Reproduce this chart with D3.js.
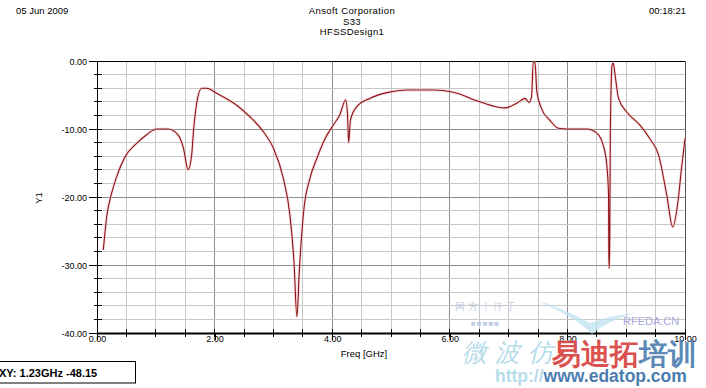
<!DOCTYPE html>
<html>
<head>
<meta charset="utf-8">
<script src="https://cdn.jsdelivr.net/npm/d3@7"></script>
<style>
  html, body { margin: 0; padding: 0; background: #fff; }
  svg { display: block; }
  text { font-family: "Liberation Sans", Arial, sans-serif; }
</style>
</head>
<body>
<svg id="chart" width="706" height="388"></svg>
<script>
// ---- data ----
const freqGHz = [0.107, 0.165, 0.25, 0.335, 0.476, 0.675, 0.85, 1.015, 1.21, 1.38, 1.47, 1.55, 1.61, 1.64, 1.71, 1.78, 1.865,
  2.035, 2.376, 2.60, 2.83, 3.00, 3.17, 3.28, 3.35, 3.40, 3.44, 3.52, 3.62, 3.74, 3.88, 4.02, 4.13, 4.23, 4.26,
  4.28, 4.31, 4.42, 4.64, 4.93, 5.27, 5.72, 6.06, 6.51, 6.94, 7.14, 7.28, 7.35, 7.39, 7.42, 7.45, 7.48, 7.56,
  7.70, 7.85, 7.99, 8.33, 8.50, 8.61, 8.67, 8.70, 8.705, 8.71, 8.72, 8.73, 8.76, 8.78, 8.81, 8.87, 9.01, 9.23,
  9.40, 9.55, 9.69, 9.79, 9.88, 9.94, 10.0];
const s33dB = [-27.8, -22.9, -19.4, -17.0, -14.1, -12.1, -10.8, -10.0, -10.0, -10.9, -12.8, -16.0, -13.8, -10.4, -5.5, -4.0, -4.0,
  -4.75, -6.5, -8.2, -10.4, -12.8, -17.3, -22.6, -29.5, -37.6, -31.0, -21.7, -17.3, -14.3, -11.4, -9.4, -7.9, -5.7, -7.9,
  -12.0, -8.7, -6.7, -5.5, -4.65, -4.26, -4.26, -4.6, -6.0, -6.9, -6.2, -5.5, -6.1, -5.25, -0.1, -0.3, -4.5, -7.0,
  -8.7, -9.9, -10.0, -10.0, -10.6, -12.4, -15.3, -19.7, -28.5, -30.5, -26.6, -10.9, -0.6, -0.3, -2.0, -5.5, -7.5, -9.4,
  -11.4, -13.8, -19.7, -24.4, -20.7, -15.8, -11.4];
const xMajorTicks = [0, 2, 4, 6, 8, 10];
const xMinorTicks = d3.range(0, 10.01, 0.5);
const yMajorTicks = [-40, -30, -20, -10, 0];
const yMinorTicks = d3.range(-40, 0.01, 2);
const headerLeft = "05 Jun 2009";
const headerRight = "00:18:21";
const titleLines = ["Ansoft Corporation", "S33", "HFSSDesign1"];
const xLabel = "Freq [GHz]";
const yLabel = "Y1";
const markerText = "XY: 1.23GHz -48.15";

// ---- layout ----
const svg = d3.select("#chart");
const L = 97, R = 685, T = 61, B = 333;
const x = d3.scaleLinear().domain([0, 10]).range([L, R]);
const y = d3.scaleLinear().domain([-40, 0]).range([B, T]);
const fmt = v => v.toFixed(2);

// grid
const g = svg.append("g");
g.selectAll(".vg").data(xMinorTicks.filter(v => v > 0 && v < 10)).join("line")
  .attr("x1", d => x(d)).attr("x2", d => x(d)).attr("y1", T).attr("y2", B)
  .attr("stroke", d => (Math.abs(d % 2) < 1e-9) ? "#8c8c8c" : "#c8c8c8").attr("stroke-width", 1)
  .attr("shape-rendering", "crispEdges");
g.selectAll(".hg").data(yMinorTicks.filter(v => v > -40 && v < 0)).join("line")
  .attr("x1", L).attr("x2", R).attr("y1", d => y(d)).attr("y2", d => y(d))
  .attr("stroke", d => (Math.abs(d % 10) < 1e-9) ? "#8c8c8c" : "#c8c8c8").attr("stroke-width", 1)
  .attr("shape-rendering", "crispEdges");

// frame: top and right
svg.append("line").attr("x1", L).attr("x2", R).attr("y1", T).attr("y2", T)
  .attr("stroke", "#000").attr("shape-rendering", "crispEdges");
svg.append("line").attr("x1", R).attr("x2", R).attr("y1", T).attr("y2", B)
  .attr("stroke", "#555").attr("shape-rendering", "crispEdges");

// minor ticks
svg.append("g").selectAll("line").data(yMinorTicks).join("line")
  .attr("x1", L - 3).attr("x2", L + 5).attr("y1", d => y(d)).attr("y2", d => y(d))
  .attr("stroke", "#000").attr("shape-rendering", "crispEdges");
svg.append("g").selectAll("line").data(xMinorTicks).join("line")
  .attr("x1", d => x(d)).attr("x2", d => x(d)).attr("y1", B - 4).attr("y2", B + 4)
  .attr("stroke", "#000").attr("shape-rendering", "crispEdges");

// axes
const yAxis = svg.append("g").attr("transform", `translate(${L},0)`)
  .call(d3.axisLeft(y).tickValues(yMajorTicks).tickFormat(fmt).tickSize(8).tickSizeOuter(0).tickPadding(2));
const xAxis = svg.append("g").attr("transform", `translate(0,${B})`)
  .call(d3.axisBottom(x).tickValues(xMajorTicks).tickFormat(fmt).tickSize(7).tickSizeOuter(0).tickPadding(0));
[yAxis, xAxis].forEach(a => {
  a.selectAll("text").attr("font-family", "Liberation Sans, Arial, sans-serif").attr("font-size", 9).attr("fill", "#000");
  a.selectAll(".tick line").attr("stroke", "#000").attr("shape-rendering", "crispEdges");
  a.select(".domain").attr("stroke", "#000");
});
yAxis.selectAll("text").attr("dy", "0.35em");
xAxis.selectAll("text").attr("dy", "0.65em").attr("y", 3);
xAxis.select(".domain").attr("stroke-width", 2.2);

// curve
const pts = freqGHz.map((f, i) => [f, s33dB[i]]);
const line = d3.line().x(d => x(d[0])).y(d => y(d[1])).curve(d3.curveMonotoneX);
svg.append("path").datum(pts).attr("d", line).attr("fill", "none")
  .attr("stroke", "#f6c4c4").attr("stroke-width", 3).attr("stroke-opacity", 0.5);
svg.append("path").datum(pts).attr("d", line).attr("fill", "none")
  .attr("stroke", "#8a1217").attr("stroke-width", 1.1).attr("stroke-linejoin", "round");

// header texts
svg.append("text").attr("x", 16).attr("y", 14).attr("font-size", 9.5).text(headerLeft);
svg.append("text").attr("x", 686).attr("y", 14).attr("font-size", 9.5).attr("text-anchor", "end").text(headerRight);
titleLines.forEach((t, i) => {
  svg.append("text").attr("x", 352).attr("y", 14 + i * 10.5).attr("font-size", 9.5)
    .attr("letter-spacing", 0.4).attr("text-anchor", "middle").text(t);
});

// axis titles
svg.append("text").attr("x", 364).attr("y", 357).attr("font-size", 9.5).attr("text-anchor", "middle").text(xLabel);
svg.append("text").attr("transform", "translate(42,198) rotate(-90)").attr("font-size", 9.5)
  .attr("text-anchor", "middle").text(yLabel);

// marker box
svg.append("rect").attr("x", -1).attr("y", 361.5).attr("width", 136.5).attr("height", 21.5)
  .attr("fill", "#fff").attr("stroke", "#000").attr("stroke-width", 1);
svg.append("text").attr("x", -1).attr("y", 376.5).attr("font-size", 11).attr("font-weight", "bold").text(markerText);

// watermark
const wm = svg.append("g");
wm.append("path").attr("d", "M533,299 Q565,309 590,323 Q612,315 634,313 Q606,322 592,334 Q574,316 533,299 Z")
  .attr("fill", "#bfe2f0").attr("opacity", 0.75);
wm.append("text").attr("x", 455).attr("y", 310).attr("font-size", 10).attr("fill", "#c6cfe0")
  .attr("font-family", "Noto Sans CJK SC").text("网 方 十 仟 于");
wm.append("text").attr("x", 471).attr("y", 326).attr("font-size", 8).attr("fill", "#c2cbe6")
  .attr("letter-spacing", 1).text("■■■■■");
wm.append("text").attr("x", 623).attr("y", 325).attr("font-size", 11).attr("fill", "#a8a8dc").text("RFEDA.CN");
wm.append("text").attr("x", 462).attr("y", 361).attr("font-size", 25).attr("fill", "#b6dcea")
  .attr("font-family", "Noto Sans CJK SC").attr("letter-spacing", 8).attr("font-style", "italic").text("微波仿");
const wt = wm.append("text").attr("x", 552).attr("y", 364).attr("font-size", 29).attr("font-weight", 900)
  .attr("font-family", "Noto Sans CJK SC").attr("opacity", 0.92);
wt.append("tspan").attr("fill", "#d9433f").text("易迪拓");
wt.append("tspan").attr("fill", "#4f7fb0").text("培训");
const wu = wm.append("text").attr("x", 495).attr("y", 382).attr("font-size", 17.5).attr("font-weight", "bold");
wu.append("tspan").attr("fill", "#b6dcea").text("http://");
wu.append("tspan").attr("fill", "#4a7cb0").text("www.edatop.com");
</script>
</body>
</html>
